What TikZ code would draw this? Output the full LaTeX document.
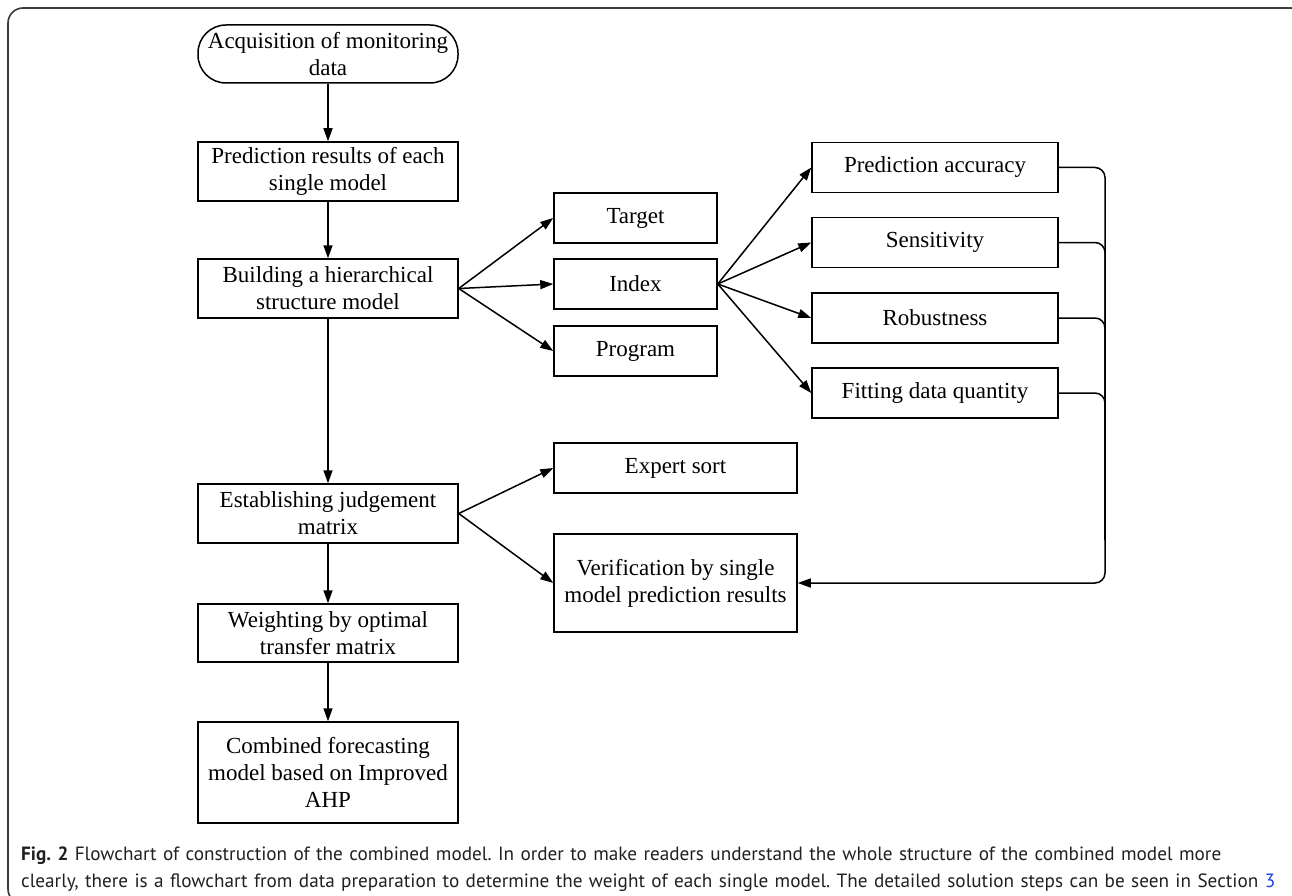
\documentclass[tikz,border=0pt]{standalone}
\usepackage{fontspec}
\setmainfont{Liberation Serif}
\newfontfamily\capfont{PT Sans}
\usepackage{tikz}
\usetikzlibrary{arrows.meta, positioning}
\usepackage{xcolor}
\definecolor{frameGray}{RGB}{60,60,60}
\definecolor{capText}{RGB}{35,31,32}
\definecolor{linkBlue}{RGB}{30,60,230}
\frenchspacing

\begin{document}
\begin{tikzpicture}[
  x=1pt, y=-1pt,
  box/.style={
    rectangle, draw=black, line width=1.5pt,
    minimum width=#1, minimum height=50pt, inner sep=2pt,
    font=\fontsize{23}{27}\selectfont, align=center
  },
  box/.default=260pt,
  term/.style={box, rounded corners=28pt},
  arr/.style={-{Triangle[length=13pt,width=9pt]}, line width=1.5pt},
  bus/.style={line width=1.5pt, rounded corners=10pt}
]
  \useasboundingbox (0,0) rectangle (1292,896);
  \path[clip] (0,0) rectangle (1292,896);
  \draw[frameGray, line width=1.6pt, rounded corners=15pt]
    (8,8) rectangle (1306,904);

  % main column
  \node[term, minimum height=58pt] (start) at (328,54)
    {Acquisition of monitoring\\data};
  \node[box, minimum height=59pt] (pred) at (328,171.5)
    {Prediction results of each\\single model};
  \node[box, minimum height=59pt] (build) at (328,288.5)
    {Building a hierarchical\\structure model};
  \node[box, minimum height=59pt] (judge) at (328,513.5)
    {Establishing judgement\\matrix};
  \node[box, minimum height=58pt] (weight) at (328,633)
    {Weighting by optimal\\transfer matrix};
  \node[box, minimum height=101pt] (comb) at (328,772.5)
    {Combined forecasting\\model based on Improved\\AHP};

  % hierarchy levels
  \node[box=163pt] (target) at (635.5,218) {Target};
  \node[box=163pt] (index) at (635.5,284) {Index};
  \node[box=163pt] (program) at (635.5,351) {Program};

  % index items
  \node[box=246pt] (acc) at (935,167.5) {Prediction accuracy};
  \node[box=246pt] (sens) at (935,242.5) {Sensitivity};
  \node[box=246pt] (robust) at (935,318) {Robustness};
  \node[box=246pt] (fitting) at (935,393) {Fitting data quantity};

  % judgement matrix
  \node[box=243pt] (expert) at (675.5,468) {Expert sort};
  \node[box=243pt, minimum height=98pt] (verif) at (675.5,583)
    {Verification by single\\model prediction results};

  \foreach \a/\b in {start/pred, pred/build, build/judge, judge/weight, weight/comb}
    \draw[arr] (\a.south) -- (\b.north);

  \foreach \b in {target, index, program}
    \draw[arr] (build.east) -- (\b.west);
  \foreach \b in {acc, sens, robust, fitting}
    \draw[arr] (index.east) -- (\b.west);
  \foreach \b in {expert, verif}
    \draw[arr] (judge.east) -- (\b.west);

  % feedback bus
  \coordinate (busend) at (1105,583);
  \coordinate (busmid) at (1105,540);
  \draw[bus, arr] (acc.east) -| (busend) -- (verif.east);
  \foreach \a in {sens, robust, fitting}
    \draw[bus] (\a.east) -| (busmid);

  % caption
  \node[anchor=north west, text width=1275pt, align=left, inner sep=0pt,
        font=\capfont\fontsize{19.2}{27}\selectfont, text=capText] (cap) at (21,847)
    {\textbf{Fig. 2} Flowchart of construction of the combined model. In order to make readers understand the whole structure of the combined model more\\
     clearly, there is a flowchart from data preparation to determine the weight of each single model. The detailed solution steps can be seen in Section \textcolor{linkBlue}{3}};
\end{tikzpicture}
\end{document}
